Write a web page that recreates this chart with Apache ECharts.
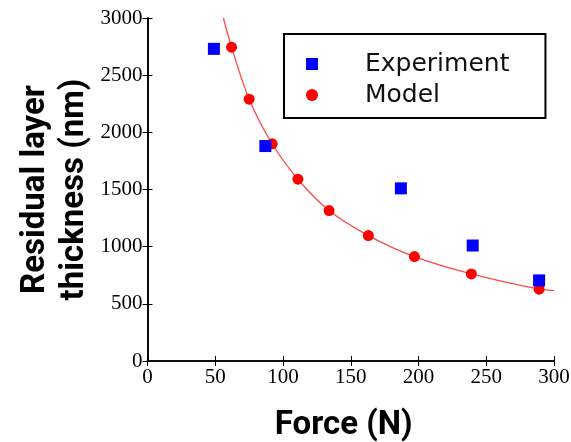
<!DOCTYPE html>
<html>
<head>
<meta charset="utf-8">
<script src="https://cdn.jsdelivr.net/npm/echarts@6/dist/echarts.min.js"></script>
<style>
html,body{margin:0;padding:0;background:#fff;}
#chart{width:571px;height:442px;}
</style>
</head>
<body>
<div id="chart"></div>
<script>
// Data
const experimentForce = [49, 87, 187, 240, 289];
const experimentThickness = [2730, 1880, 1510, 1010, 705];
const modelForce = [62, 75, 92, 111, 134, 163, 197, 239, 289];
const modelThickness = [2745, 2290, 1900, 1590, 1316, 1097, 913, 762, 628];
// fitted curve
const curveForce = [56, 62, 75, 92, 111, 134, 163, 197, 239, 289, 300];
const curveThickness = [3000, 2745, 2290, 1900, 1590, 1316, 1097, 913, 762, 628, 616];
const xTicks = [0, 50, 100, 150, 200, 250, 300];
const yTicks = [0, 500, 1000, 1500, 2000, 2500, 3000];

const zip = (a, b) => a.map((v, i) => [v, b[i]]);

const chart = echarts.init(document.getElementById('chart'), null, {renderer: 'canvas'});
const tickFont = {fontFamily: 'Liberation Serif', fontSize: 21, color: '#000', formatter: v => String(v)};
const titleFont = {fontFamily: 'Roboto', fontWeight: 'bold', fontSize: 33, color: '#000'};

chart.setOption({
  animation: false,
  backgroundColor: '#fff',
  grid: {left: 147.5, right: 17, top: 18, bottom: 81, containLabel: false, outerBoundsMode: 'none'},
  xAxis: [{
    type: 'value', min: xTicks[0], max: xTicks[xTicks.length - 1], interval: 50,
    position: 'bottom',
    axisLine: {show: true, lineStyle: {color: '#000', width: 1.6}},
    axisTick: {show: true, inside: true, length: 5, lineStyle: {color: '#000', width: 1}},
    axisLabel: Object.assign({margin: 6}, tickFont),
    splitLine: {show: false},
    name: 'Force (N)', nameLocation: 'middle', nameGap: 48, nameMoveOverlap: false,
    nameTextStyle: Object.assign({padding: [0, 14, 0, 0]}, titleFont)
  }, {
    type: 'value', min: 0, max: 300, interval: 50, position: 'top',
    axisLine: {show: true, lineStyle: {color: '#000', width: 1.6}},
    axisTick: {show: true, inside: true, length: 5, lineStyle: {color: '#000', width: 1}},
    axisLabel: {show: false}, splitLine: {show: false}
  }],
  yAxis: [{
    type: 'value', min: yTicks[0], max: yTicks[yTicks.length - 1], interval: 500,
    position: 'left',
    axisLine: {show: true, lineStyle: {color: '#000', width: 1.6}},
    axisTick: {show: true, inside: true, length: 5, lineStyle: {color: '#000', width: 1}},
    axisLabel: Object.assign({margin: 5}, tickFont),
    splitLine: {show: false},
    name: 'Residual layer\nthickness (nm)', nameLocation: 'middle', nameGap: 53, nameMoveOverlap: false,
    nameTextStyle: Object.assign({lineHeight: 39}, titleFont)
  }, {
    type: 'value', min: 0, max: 3000, interval: 500, position: 'right',
    axisLine: {show: true, lineStyle: {color: '#000', width: 1.6}},
    axisTick: {show: true, inside: true, length: 5, lineStyle: {color: '#000', width: 1}},
    axisLabel: {show: false}, splitLine: {show: false}
  }],
  legend: {
    orient: 'vertical', left: 284, top: 34,
    data: ['Experiment', 'Model'],
    itemWidth: 12, itemHeight: 12, itemGap: 5,
    padding: [17, 36, 10, 22],
    borderColor: '#000', borderWidth: 2,
    textStyle: {fontFamily: 'DejaVu Sans', fontSize: 25, color: '#111', lineHeight: 26, padding: [0, 0, 0, 42]}
  },
  series: [{
    name: 'Fit', type: 'line', xAxisIndex: 0, yAxisIndex: 0,
    data: zip(curveForce, curveThickness),
    smooth: 0.3, showSymbol: false, symbol: 'none',
    lineStyle: {color: '#ff4a4a', width: 1.3}, clip: true, z: 1
  }, {
    name: 'Model', type: 'scatter', xAxisIndex: 0, yAxisIndex: 0,
    data: zip(modelForce, modelThickness),
    symbol: 'circle', symbolSize: 11,
    itemStyle: {color: '#ff0000', opacity: 1}, z: 2
  }, {
    name: 'Experiment', type: 'scatter', xAxisIndex: 0, yAxisIndex: 0,
    data: zip(experimentForce, experimentThickness),
    symbol: 'rect', symbolSize: 12,
    itemStyle: {color: '#0000ff', opacity: 1}, z: 3
  }]
});
</script>
</body>
</html>
